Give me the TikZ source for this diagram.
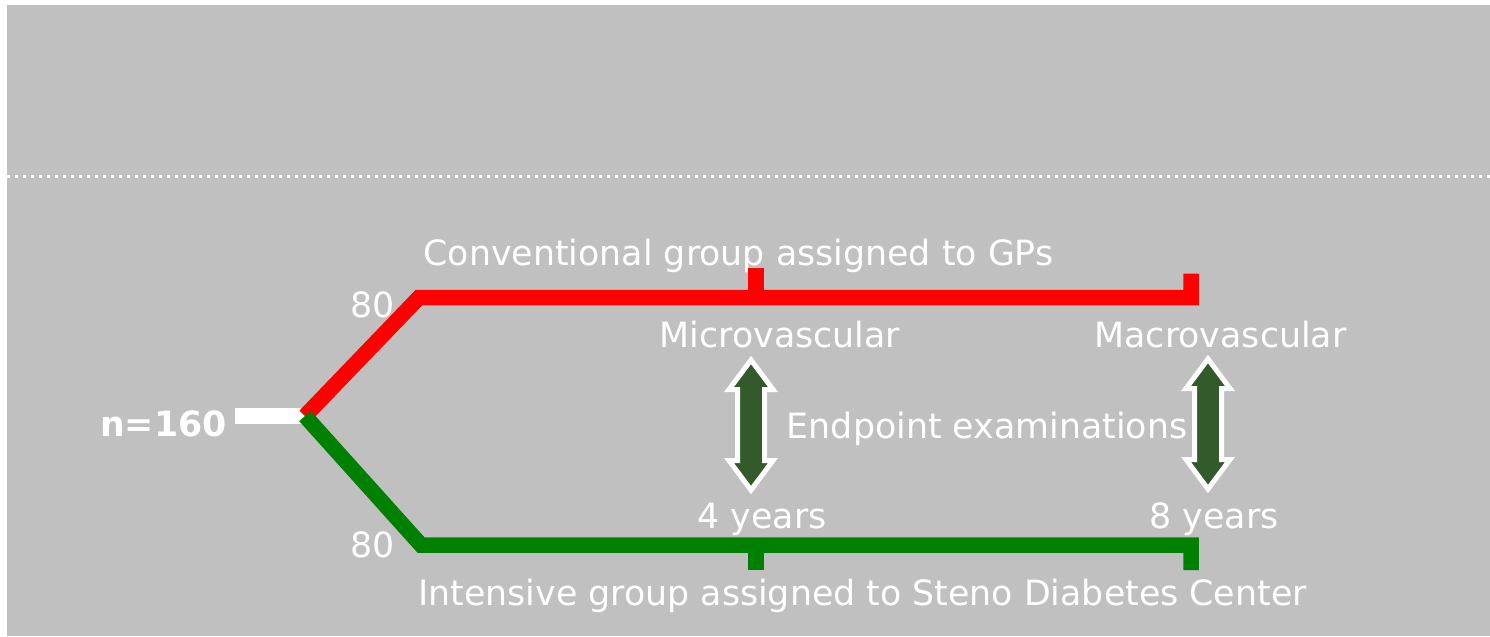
\documentclass[tikz,border=0pt]{standalone}
\usepackage{fontspec}
\setmainfont{DejaVu Sans}
\usetikzlibrary{positioning}
\definecolor{slidegray}{RGB}{192,192,192}
\definecolor{convred}{RGB}{255,0,0}
\definecolor{intgreen}{RGB}{0,128,0}
\definecolor{arrowgreen}{RGB}{51,90,43}
\begin{document}
\begin{tikzpicture}[
			x=0.02cm, y=-0.02cm,
			txt/.style={text=white, inner sep=0pt, anchor=base, font=\fontsize{19.8}{23}\selectfont},
			arm/.style={line width=0.31cm, line join=miter},
			fatarrow/.pic={
				\filldraw[fill=arrowgreen, draw=white, line width=0.1cm, line join=miter]
				(0,-65) -- (22,-35.5) -- (13.5,-35.5) -- (13.5,35.5) -- (22,35.5) -- (0,65)
				-- (-22,35.5) -- (-13.5,35.5) -- (-13.5,-35.5) -- (-22,-35.5) -- cycle;
			}
			]
			\useasboundingbox (0,0) rectangle (1490,636);
			\fill[slidegray] (7,5) rectangle (1490,636);
			\draw[white, line width=0.06cm, dash pattern=on 0.06cm off 0.1cm] (7,176) -- (1490,176);
			% branch points
			\coordinate (split) at (305,416);
			\coordinate (convstart) at (419,297.5);
			\coordinate (conv4) at (756,297.5);
			\coordinate (conv8) at (1191,297.5);
			\coordinate (intstart) at (421,545);
			\coordinate (int4) at (756,545);
			\coordinate (int8) at (1191,545);
			% texts
			\node[txt, anchor=base east] (total) at (227,436) {\bfseries n=160};
			\node[txt] (convn) at (372.5,317) {80};
			\node[txt] (intn) at (372.5,557) {80};
			\node[txt] (convgroup) at (738.5,265) {Conventional group assigned to GPs};
			\node[txt] (intgroup) at (862.5,605) {Intensive group assigned to Steno Diabetes Center};
			\node[txt] (micro) at (780,347) {Microvascular};
			\node[txt] (macro) at (1220.5,347) {Macrovascular};
			\node[txt] (endpoint) at (987,438) {Endpoint examinations};
			\node[txt] (four) at (762,528) {4 years};
			\node[txt] (eight) at (1214,528) {8 years};
			% arms
			\draw[arm, white] (235,416) -- (split);
			\draw[arm, convred] (split) -- (convstart) -- (conv8) -- ++(0,-24);
			\draw[arm, convred] (conv4) -- ++(0,-30);
			\draw[arm, intgreen] (split) -- (intstart) -- (int8) -- ++(0,25);
			\draw[arm, intgreen] (int4) -- ++(0,25);
			% endpoint arrows
			\pic at (751,425) {fatarrow};
			\pic at (1208,424) {fatarrow};
		\end{tikzpicture}
\end{document}
